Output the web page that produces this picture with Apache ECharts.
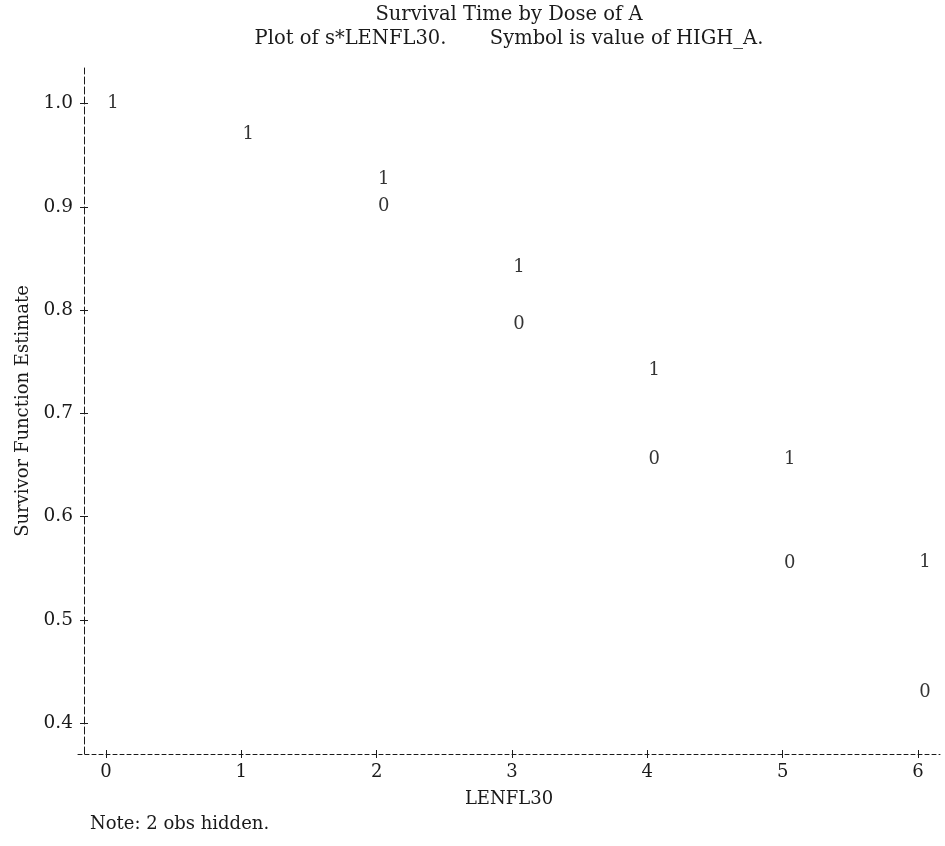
<!DOCTYPE html>
<html>
<head>
<meta charset="utf-8">
<script src="https://cdn.jsdelivr.net/npm/echarts@6/dist/echarts.min.js"></script>
<style>
html,body{margin:0;padding:0;background:#fff;}
#chart{width:945px;height:846px;}
</style>
</head>
<body>
<div id="chart"></div>
<script>
// ---- data ----
var titleLines = ['Survival Time by Dose of A', 'Plot of s*LENFL30.       Symbol is value of HIGH_A.'];
var noteText = 'Note: 2 obs hidden.';
var xTicks = [0, 1, 2, 3, 4, 5, 6];
var yTicks = [0.4, 0.5, 0.6, 0.7, 0.8, 0.9, 1.0];
var xHigh1 = [0, 1, 2, 3, 4, 5, 6];
var sHigh1 = [1.0, 0.970, 0.927, 0.841, 0.742, 0.655, 0.556];
var xHigh0 = [2, 3, 4, 5, 6];
var sHigh0 = [0.900, 0.786, 0.655, 0.555, 0.430];
var xName = 'LENFL30';
var yName = 'Survivor Function Estimate';

var FONT = 'DejaVu Serif';
var FS = 18;
var INK = '#1a1a1a';

function pairs(xs, ys) { return xs.map(function (x, i) { return [x, ys[i]]; }); }

var chart = echarts.init(document.getElementById('chart'), null, {renderer: 'canvas'});

var xBase = {
  type: 'value', min: -0.207, max: 6.163, position: 'bottom',
  splitLine: {show: false}
};
var yBase = {
  type: 'value', min: 0.370, max: 1.0344, position: 'left', offset: -6,
  splitLine: {show: false}
};

function symbolSeries(name, ch, data) {
  return {
    type: 'scatter', name: name, data: data,
    symbol: 'circle', symbolSize: 0,
    itemStyle: {color: '#000'},
    label: {
      show: true, position: 'inside', formatter: ch, offset: [7, 0],
      fontFamily: FONT, fontSize: FS, color: '#000', textBorderWidth: 0
    },
    emphasis: {disabled: true}, silent: true
  };
}

chart.setOption({
  animation: false,
  backgroundColor: '#fff',
  title: [
    {
      text: titleLines.join('\n'), left: 509, top: 3, textAlign: 'center', padding: 0,
      textStyle: {fontFamily: FONT, fontSize: 19.5, fontWeight: 'normal', color: INK, lineHeight: 24}
    },
    {
      text: noteText, left: 90, top: 815, padding: 0,
      textStyle: {fontFamily: FONT, fontSize: FS, fontWeight: 'normal', color: INK}
    }
  ],
  grid: {left: 78, right: 5, top: 68, bottom: 92, containLabel: false},
  xAxis: [
    Object.assign({}, xBase, {
      name: xName, nameLocation: 'middle', nameGap: 36,
      nameTextStyle: {fontFamily: FONT, fontSize: FS, color: INK},
      axisLine: {show: true, onZero: false, lineStyle: {color: INK, width: 1, type: [4, 3]}},
      axisTick: {show: true, inside: false, length: 4, customValues: xTicks, lineStyle: {color: INK, width: 1}},
      axisLabel: {show: true, customValues: xTicks, margin: 9, fontFamily: FONT, fontSize: FS, color: INK,
        formatter: function (v) { return String(Math.round(v)); }}
    }),
    Object.assign({}, xBase, {
      axisLine: {show: false, onZero: false},
      axisTick: {show: true, inside: true, length: 4, customValues: xTicks, lineStyle: {color: INK, width: 1}},
      axisLabel: {show: false}
    })
  ],
  yAxis: [
    Object.assign({}, yBase, {
      name: yName, nameLocation: 'middle', nameGap: 52, nameRotate: 90,
      nameTextStyle: {fontFamily: FONT, fontSize: FS, color: INK},
      axisLine: {show: true, onZero: false, lineStyle: {color: INK, width: 1, type: [7, 3]}},
      axisTick: {show: true, inside: false, length: 4, customValues: yTicks, lineStyle: {color: INK, width: 1}},
      axisLabel: {show: true, customValues: yTicks, margin: 11, fontFamily: FONT, fontSize: 18.5, color: INK,
        formatter: function (v) { return v.toFixed(1); }}
    }),
    Object.assign({}, yBase, {
      axisLine: {show: false, onZero: false},
      axisTick: {show: true, inside: true, length: 4, customValues: yTicks, lineStyle: {color: INK, width: 1}},
      axisLabel: {show: false}
    })
  ],
  series: [
    symbolSeries('HIGH_A=1', '1', pairs(xHigh1, sHigh1)),
    symbolSeries('HIGH_A=0', '0', pairs(xHigh0, sHigh0))
  ]
});
</script>
</body>
</html>
